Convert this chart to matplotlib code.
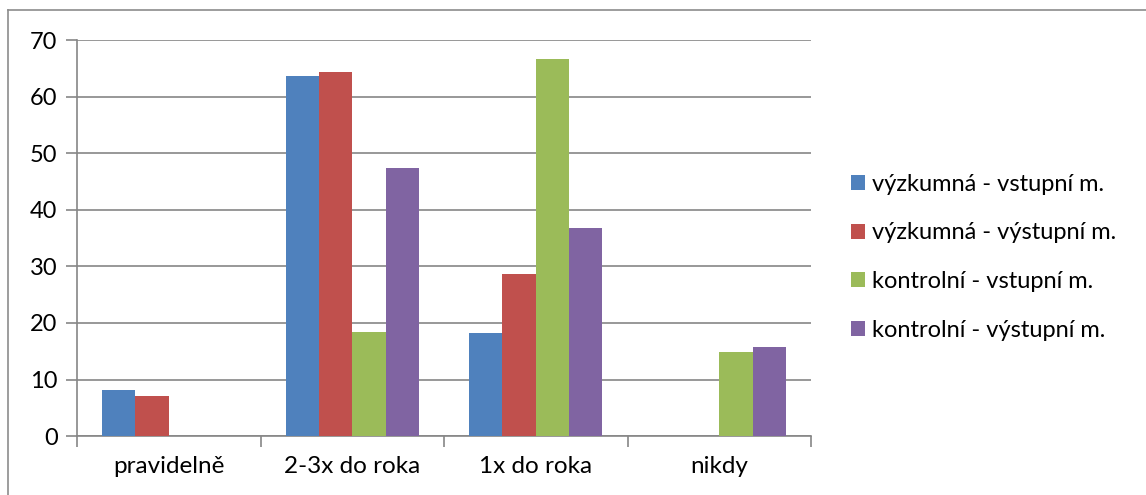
import matplotlib.pyplot as plt
import numpy as np
from matplotlib.lines import Line2D
from matplotlib.patches import Patch

categories = ["pravidelně", "2-3x do roka", "1x do roka", "nikdy"]
series_names = ["výzkumná - vstupní m.", "výzkumná - výstupní m.",
                "kontrolní - vstupní m.", "kontrolní - výstupní m."]
vyzk_vstup = [8.1, 63.6, 18.2, 0]
vyzk_vystup = [7.1, 64.3, 28.6, 0]
kontr_vstup = [0, 18.4, 66.7, 14.8]
kontr_vystup = [0, 47.4, 36.8, 15.8]
colors = ["#4f81bd", "#c0504d", "#9bbb59", "#8064a2"]

plt.rcParams['font.family'] = ['Lato', 'DejaVu Sans']

fig = plt.figure(figsize=(11.46, 4.95), dpi=100, facecolor="white")
ax = fig.add_axes([0.0672, 0.119, 0.6405, 0.800])

grid_col = "#868686"
series = [vyzk_vstup, vyzk_vystup, kontr_vstup, kontr_vystup]
x = np.arange(len(categories))
# gap width 150% like the office default
bw = 1 / (len(series) + 1.5)
for i, vals in enumerate(series):
    offs = -2 * bw + bw * i + bw / 2
    ax.bar(x + offs, vals, width=bw, color=colors[i], zorder=3)

ax.set_xlim(-0.5, len(categories) - 0.5)
ax.set_ylim(0, 70)
ax.set_yticks(range(0, 71, 10))
ax.yaxis.grid(True, color=grid_col, linewidth=1.2, zorder=0)

ax.set_xticks(np.arange(-0.5, len(categories), 1.0))
ax.set_xticklabels([])
ax.set_xticks(x, minor=True)
ax.set_xticklabels(categories, minor=True)
ax.tick_params(axis="x", which="minor", length=0, pad=14, labelsize=17.5)
ax.tick_params(axis="x", which="major", length=8, width=1.2, color=grid_col)
ax.tick_params(axis="y", length=8, width=1.2, color=grid_col, labelsize=17, pad=6)

for s in ["top", "right"]:
    ax.spines[s].set_visible(False)
for s in ["left", "bottom"]:
    ax.spines[s].set_color(grid_col)
    ax.spines[s].set_linewidth(1.2)

handles = [Patch(facecolor=c) for c in colors]
fig.legend(handles, series_names, loc="upper left", bbox_to_anchor=(0.734, 0.668),
           frameon=False, fontsize=17, handlelength=0.6, handleheight=0.6,
           handletextpad=0.3, labelspacing=1.17, borderaxespad=0)

# outer chart border
fig.add_artist(Line2D([8 / 1146, 8 / 1146], [0, 1 - 10 / 495], color="#8c8c8c", lw=1.2))
fig.add_artist(Line2D([8 / 1146, 1], [1 - 10 / 495, 1 - 10 / 495], color="#8c8c8c", lw=1.2))

fig.savefig("out.png", dpi=100)
